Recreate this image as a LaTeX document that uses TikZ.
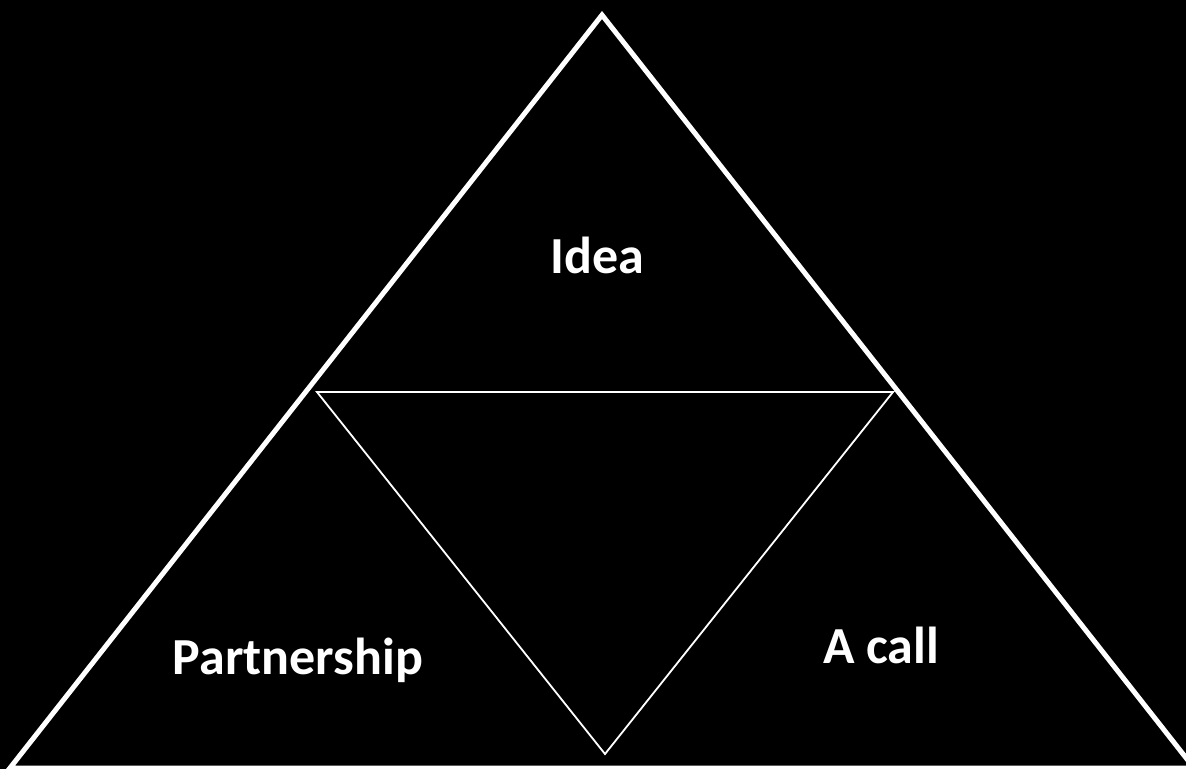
\documentclass[tikz,border=0pt]{standalone}
\usepackage{fontspec}
\setmainfont{Carlito}
\begin{document}
\begin{tikzpicture}[x=1bp,y=-1bp,line join=miter]
  \tikzstyle{outer side}=[draw=white,line width=5bp]
  \tikzstyle{inner side}=[draw=white,line width=1.8bp]
  \tikzstyle{word}=[text=white,font=\bfseries\fontsize{52bp}{62bp}\selectfont,anchor=base,inner sep=0pt]

  \fill[black] (0,0) rectangle (1186,769);
  \useasboundingbox (0,0) rectangle (1186,769);
  \clip (0,0) rectangle (1186,769);

  \coordinate (T) at (602,15);
  \coordinate (L) at (10,768);
  \coordinate (R) at (1194,768);
  \coordinate (ML) at (317,392);
  \coordinate (MR) at (893,392);
  \coordinate (B) at (605,754);

  \path[outer side] (T) -- (R) -- (L) -- cycle;
  \path[inner side] (ML) -- (MR) -- (B) -- cycle;

  \node[word] (idea)    at (597.5,273) {Idea};
  \node[word] (partner) at (298,674)   {Partnership};
  \node[word] (call)    at (881,663)   {A call};
\end{tikzpicture}
\end{document}
